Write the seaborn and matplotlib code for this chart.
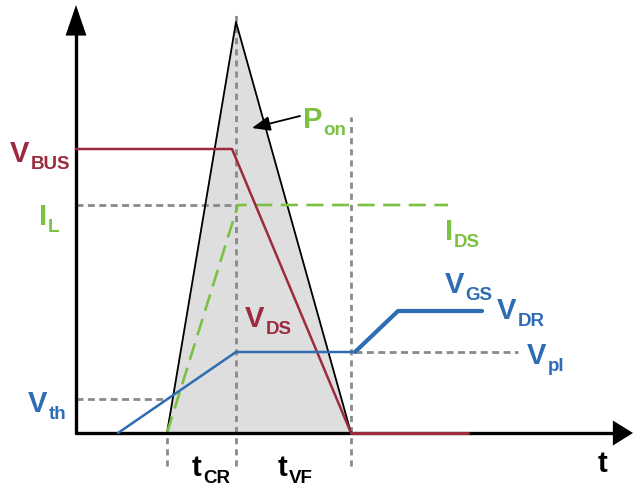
import numpy as np
import pandas as pd
import matplotlib
matplotlib.use("Agg")
import matplotlib.pyplot as plt
import seaborn as sns

sns.set_theme(style="white")
plt.rcParams['font.family'] = ['Liberation Sans', 'DejaVu Sans']

# ---- data (schematic units: time along x, level along y) ----
pon_t = [91, 160, 275]
pon_v = [0, 411, 0]
vds_t = [0, 156, 275, 392]
vds_v = [284, 284, 0, 0]
ids_t = [91, 162, 372]
ids_v = [0, 228, 228]
vgs_t = [42, 160, 279]
vgs_v = [0, 81, 81]
vdr_t = [279, 322, 406]
vdr_v = [81, 122, 122]
level_names = ["V_BUS", "I_L", "V_pl", "V_th"]
V_BUS, I_L, V_PL, V_TH = 284, 228, 81, 34
t_marks = [91, 160, 275]
t_tops = [-33, 420, 316]

RED = "#9b2b3d"
GREEN = "#7bc143"
BLUE = "#2e6cb3"
GRAY = "#8a8a8a"

fig = plt.figure(figsize=(6.33, 4.86), dpi=100)
ax = fig.add_axes([0, 0, 1, 1])
ax.set_xlim(-76, 557)
ax.set_ylim(-53, 433)
ax.axis("off")

# power triangle
ax.fill(pon_t, pon_v, color="#dedede", zorder=1)
sns.lineplot(x=pon_t, y=pon_v, sort=False, color="black", lw=1.3, ax=ax, zorder=3)

# dotted time markers
for t, top in zip(t_marks, t_tops):
    ax.plot([t, t], [-33, max(top, 0)], color=GRAY, lw=2, ls=(0, (2.2, 1.8)), zorder=2)

# dashed reference levels
ax.plot([0, 160], [I_L, I_L], color=GRAY, lw=2, ls=(0, (2.5, 1.6)), zorder=2)
ax.plot([0, 91], [V_TH, V_TH], color=GRAY, lw=2, ls=(0, (2.5, 1.6)), zorder=2)
ax.plot([279, 442], [V_PL, V_PL], color=GRAY, lw=2, ls=(0, (2.5, 1.6)), zorder=2)

# axes with arrows
ax.plot([0, 0], [0, 405], color="black", lw=2.4, zorder=5)
ax.plot([0, 540], [0, 0], color="black", lw=2.4, zorder=5)
ax.annotate("", xy=(0, 428), xytext=(0, 380),
            arrowprops=dict(arrowstyle="-|>,head_length=2.2,head_width=0.75", mutation_scale=10,
                            color="black", lw=0, shrinkA=0, shrinkB=0), zorder=6)
ax.annotate("", xy=(557, 0), xytext=(520, 0),
            arrowprops=dict(arrowstyle="-|>,head_length=1.45,head_width=0.9", mutation_scale=10,
                            color="black", lw=0, shrinkA=0, shrinkB=0), zorder=6)

# waveforms
sns.lineplot(x=ids_t, y=ids_v, sort=False, color=GREEN, lw=1.9, ax=ax, zorder=4,
             linestyle=(0, (6.5, 3.2)))
sns.lineplot(x=vds_t[:3], y=vds_v[:3], sort=False, color=RED, lw=1.8, ax=ax, zorder=6)
sns.lineplot(x=vds_t[2:], y=vds_v[2:], sort=False, color=RED, lw=2.2, ax=ax, zorder=7)
sns.lineplot(x=vgs_t, y=vgs_v, sort=False, color=BLUE, lw=1.8, ax=ax, zorder=6)
sns.lineplot(x=vdr_t, y=vdr_v, sort=False, color=BLUE, lw=3, ax=ax, zorder=6)

# P_on arrow
ax.annotate("", xy=(176, 305), xytext=(224, 317),
            arrowprops=dict(arrowstyle="-|>,head_length=1.1,head_width=0.45", mutation_scale=10,
                            color="black", lw=1.3, shrinkA=0, shrinkB=0), zorder=8)


def label(x, y, main, sub, color, big=21, small=13.5, dx=None, dy=-7):
    t = ax.text(x, y, main, color=color, fontsize=big, fontweight="bold", ha="left", va="baseline")
    fig.canvas.draw()
    bb = t.get_window_extent()
    inv = ax.transData.inverted()
    x1 = inv.transform((bb.x1, bb.y0))[0]
    ax.text(x1 + (dx if dx is not None else 1), y + dy, sub, color=color, fontsize=small,
            fontweight="bold", ha="left", va="baseline")


label(-66, 271, "V", "BUS", RED)
label(-37, 208, "I", "L", GREEN, dx=1)
label(227, 305, "P", "on", GREEN)
label(369, 193, "I", "DS", GREEN, dx=1)
label(369, 140, "V", "GS", BLUE)
label(421, 114, "V", "DR", BLUE)
label(451, 69, "V", "pl", BLUE)
label(169, 106, "V", "DS", RED)
label(-48, 21, "V", "th", BLUE)
label(116, -43, "t", "CR", "black")
label(202, -43, "t", "VF", "black")
ax.text(522, -39, "t", color="black", fontsize=21, fontweight="bold", ha="left", va="baseline")

fig.savefig("out.png", dpi=100)
